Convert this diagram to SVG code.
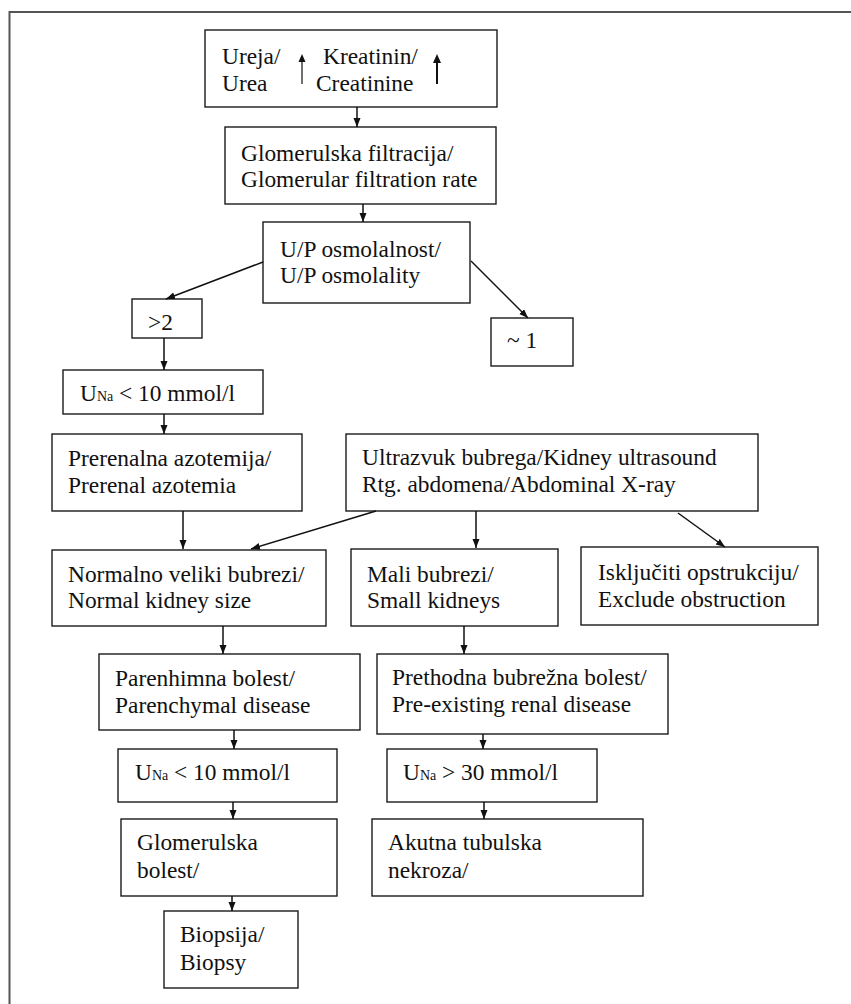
<svg xmlns="http://www.w3.org/2000/svg" width="851" height="1004" viewBox="0 0 851 1004">
<style>
.box{fill:#fff;stroke:#1a1a1a;stroke-width:1.4}
.t{font-family:"Liberation Serif","Times New Roman",serif;font-size:23.4px;fill:#111}
.sub{font-size:14px}
.c{stroke:#111;stroke-width:1.5;fill:none;marker-end:url(#ah)}
</style>
<defs>
<marker id="ah" markerUnits="userSpaceOnUse" markerWidth="10" markerHeight="8" refX="9" refY="3.5" orient="auto">
<path d="M0,0 L9,3.5 L0,7 z" fill="#111"/>
</marker>
</defs>
<rect width="851" height="1004" fill="#fff"/>
<path d="M9.5,1004 V12 H851" fill="none" stroke="#555" stroke-width="2"/>

<g id="n-urea"><rect class="box" x="205" y="30" width="292" height="77"/>
<text class="t" x="222" y="64">Ureja/</text><text class="t" x="222" y="91">Urea</text>
<text class="t" x="323" y="64">Kreatinin/</text><text class="t" x="316" y="91">Creatinine</text>
<line x1="302" y1="84" x2="302" y2="58" stroke="#111" stroke-width="1.2"/><path d="M298.5,62 L302,54 L305.5,62 z" fill="#111"/>
<line x1="437" y1="84" x2="437" y2="58" stroke="#111" stroke-width="2"/><path d="M433,63 L437,54 L441,63 z" fill="#111"/>
</g>
<g id="n-gfr"><rect class="box" x="225" y="127" width="271" height="77"/>
<text class="t" x="241" y="161">Glomerulska filtracija/</text><text class="t" x="241" y="187">Glomerular filtration rate</text></g>
<g id="n-osm"><rect class="box" x="263" y="222" width="207" height="81"/>
<text class="t" x="280" y="257">U/P osmolalnost/</text><text class="t" x="280" y="283">U/P osmolality</text></g>
<g id="n-gt2"><rect class="box" x="132" y="299" width="70" height="39"/>
<text class="t" x="148" y="330">&gt;2</text></g>
<g id="n-1"><rect class="box" x="491" y="318" width="82" height="48"/>
<text class="t" x="507" y="348">~ 1</text></g>
<g id="n-una1"><rect class="box" x="63" y="370" width="200" height="44"/>
<text class="t" x="80" y="401">U<tspan class="sub">Na</tspan> &lt; 10 mmol/l</text></g>
<g id="n-prerenal"><rect class="box" x="52" y="434" width="250" height="77"/>
<text class="t" x="68" y="466">Prerenalna azotemija/</text><text class="t" x="68" y="493">Prerenal azotemia</text></g>
<g id="n-us"><rect class="box" x="346" y="434" width="412" height="77"/>
<text class="t" x="362" y="465">Ultrazvuk bubrega/Kidney ultrasound</text><text class="t" x="362" y="492">Rtg. abdomena/Abdominal X-ray</text></g>
<g id="n-normal"><rect class="box" x="52" y="550" width="274" height="76"/>
<text class="t" x="68" y="582">Normalno veliki bubrezi/</text><text class="t" x="68" y="608">Normal kidney size</text></g>
<g id="n-small"><rect class="box" x="351" y="549" width="207" height="77"/>
<text class="t" x="367" y="582">Mali bubrezi/</text><text class="t" x="367" y="608">Small kidneys</text></g>
<g id="n-obs"><rect class="box" x="581" y="547" width="237" height="78"/>
<text class="t" x="598" y="580">Isključiti opstrukciju/</text><text class="t" x="598" y="607">Exclude obstruction</text></g>
<g id="n-par"><rect class="box" x="99" y="654" width="261" height="76"/>
<text class="t" x="115" y="686">Parenhimna bolest/</text><text class="t" x="115" y="713">Parenchymal disease</text></g>
<g id="n-pre"><rect class="box" x="377" y="654" width="291" height="80"/>
<text class="t" x="392" y="685">Prethodna bubrežna bolest/</text><text class="t" x="392" y="712">Pre-existing renal disease</text></g>
<g id="n-una2"><rect class="box" x="118" y="749" width="219" height="53"/>
<text class="t" x="135" y="780">U<tspan class="sub">Na</tspan> &lt; 10 mmol/l</text></g>
<g id="n-una3"><rect class="box" x="387" y="749" width="210" height="53"/>
<text class="t" x="403" y="780">U<tspan class="sub">Na</tspan> &gt; 30 mmol/l</text></g>
<g id="n-glom"><rect class="box" x="121" y="819" width="216" height="77"/>
<text class="t" x="137" y="850">Glomerulska</text><text class="t" x="137" y="878">bolest/</text></g>
<g id="n-atn"><rect class="box" x="372" y="819" width="271" height="77"/>
<text class="t" x="388" y="850">Akutna tubulska</text><text class="t" x="388" y="878">nekroza/</text></g>
<g id="n-bio"><rect class="box" x="164" y="911" width="134" height="77"/>
<text class="t" x="180" y="942">Biopsija/</text><text class="t" x="180" y="970">Biopsy</text></g>

<g id="connectors">
<line class="c" x1="357" y1="107" x2="357" y2="127"/>
<line class="c" x1="363" y1="204" x2="363" y2="222"/>
<line class="c" x1="263" y1="262" x2="166" y2="299"/>
<line class="c" x1="471" y1="261" x2="528" y2="318"/>
<line class="c" x1="164" y1="338" x2="164" y2="370"/>
<line class="c" x1="164" y1="414" x2="164" y2="434"/>
<line class="c" x1="183" y1="511" x2="183" y2="549"/>
<line class="c" x1="376" y1="511" x2="251" y2="549"/>
<line class="c" x1="476" y1="511" x2="476" y2="548"/>
<line class="c" x1="678" y1="513" x2="725" y2="547"/>
<line class="c" x1="223" y1="626" x2="223" y2="654"/>
<line class="c" x1="464" y1="626" x2="464" y2="654"/>
<line class="c" x1="234" y1="730" x2="234" y2="749"/>
<line class="c" x1="483" y1="734" x2="483" y2="749"/>
<line class="c" x1="233" y1="802" x2="233" y2="819"/>
<line class="c" x1="484" y1="802" x2="484" y2="819"/>
<line class="c" x1="232" y1="896" x2="232" y2="911"/>
</g>
</svg>
